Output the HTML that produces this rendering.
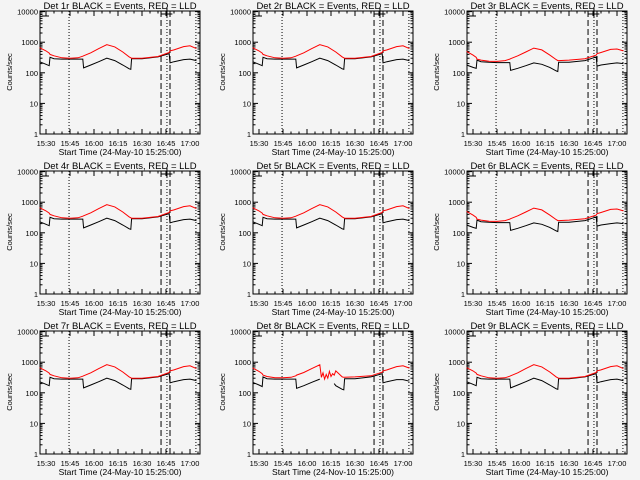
<!DOCTYPE html>
<html><head><meta charset="utf-8"><style>
html,body{margin:0;padding:0;background:#f4f4f4;}
svg{display:block;font-family:"Liberation Sans",sans-serif;}
</style></head><body>
<svg id="chart" width="640" height="480" viewBox="0 0 640 480"></svg>
<script>
const NS="http://www.w3.org/2000/svg";
const times=[926,930,932,932.5,935,940,945,950,953,953.5,958,963,968,973,978,982,983,983.5,990,1000,1007,1007.5,1010,1016,1020,1024];
const blackA=[230,190,170,320,290,280,280,280,280,145,180,230,300,250,180,135,130,290,290,330,420,210,230,270,280,250];
const redA=[660,520,440,400,360,310,300,310,350,360,450,620,830,700,480,330,310,300,300,340,460,520,560,720,760,620];
const blackB=[180,150,140,260,230,220,215,215,215,120,140,170,210,190,150,115,110,220,220,250,330,165,180,200,210,200];
const redB=[500,380,320,280,260,240,235,250,280,290,360,480,640,560,380,270,250,250,260,290,380,420,460,580,600,520];
const times8=[926,930,932,932.5,935,940,945,950,953,953.5,958,963,968,969,970,971,972,973,974,975,976,977,978,982,983,983.5,990,1000,1007,1007.5,1010,1016,1020,1024];
const black8=[220,180,160,330,290,280,280,280,280,140,170,220,280,null,null,null,null,null,null,null,null,200,170,130,125,290,290,330,420,210,230,270,270,240];
const red8=[650,500,420,380,340,310,310,320,360,380,460,620,820,320,450,280,400,300,500,340,420,380,520,330,320,320,330,360,470,520,560,720,760,640];
const panels=[
 {n:"1r",d:"24-May-10",t:times,b:blackA,r:redA},
 {n:"2r",d:"24-May-10",t:times,b:blackA,r:redA},
 {n:"3r",d:"24-May-10",t:times,b:blackB,r:redB},
 {n:"4r",d:"24-May-10",t:times,b:blackA,r:redA},
 {n:"5r",d:"24-May-10",t:times,b:blackA,r:redA},
 {n:"6r",d:"24-May-10",t:times,b:blackB,r:redB},
 {n:"7r",d:"24-May-10",t:times,b:blackA,r:redA},
 {n:"8r",d:"24-Nov-10",t:times8,b:black8,r:red8},
 {n:"9r",d:"24-May-10",t:times,b:blackA,r:redA}];
const xTickMin=[930,945,960,975,990,1005,1020];
const xTickLabels=["15:30","15:45","16:00","16:15","16:30","16:45","17:00"];
const yTicks=[1,10,100,1000,10000];
const yTickLabels=["1","10","100","1000","10000"];
const dotted=[944.4,1005.6,1023.7];
const dashed=[1001.9,1007.5];
const svg=document.getElementById('chart');
function el(tag,a,parent){const e=document.createElementNS(NS,tag);for(const k in a)e.setAttribute(k,a[k]);parent.appendChild(e);return e;}
const L=40,R=200,T=11,B=134,XMIN=926.25,XMAX=1026.25;
const fx=m=>L+(m-XMIN)*(R-L)/(XMAX-XMIN);
const fy=v=>B-Math.log10(v)*30.6;
panels.forEach((p,i)=>{
 const ox=Math.round((i%3)*213.33),oy=Math.floor(i/3)*160;
 const g=el('g',{transform:`translate(${ox},${oy})`},svg);
 
 
 const title=el('text',{x:120,y:9,'font-size':9.5,'text-anchor':'middle',fill:'#000'},g);
 title.textContent=`Det ${p.n} BLACK = Events, RED = LLD`;
 
 
 const frame=el('rect',{x:L,y:T,width:R-L,height:B-T,fill:'none',stroke:'#000','stroke-width':1},g);
 
 
 yTicks.forEach((v,k)=>{
  const y=fy(v);
  el('line',{x1:L,x2:L+5,y1:y,y2:y,stroke:'#000'},g);
  el('line',{x1:R-5,x2:R,y1:y,y2:y,stroke:'#000'},g);
  const tl=el('text',{x:L-2,y:y+3,'font-size':7.5,'text-anchor':'end',fill:'#000'},g);
  tl.textContent=yTickLabels[k];
  
  
  if(v<10000)for(let m=2;m<10;m++){const yy=fy(v*m);el('line',{x1:L,x2:L+2.5,y1:yy,y2:yy,stroke:'#000'},g);el('line',{x1:R-2.5,x2:R,y1:yy,y2:yy,stroke:'#000'},g);}
 });
 for(let m=930;m<=1025;m+=5){const x=fx(m);const len=(m%15==0)?5:2.5;el('line',{x1:x,x2:x,y1:B,y2:B-len,stroke:'#000'},g);el('line',{x1:x,x2:x,y1:T,y2:T+len,stroke:'#000'},g);}
 xTickMin.forEach((m,k)=>{
  const tl=el('text',{x:fx(m),y:146,'font-size':7.5,'text-anchor':'middle',fill:'#000'},g);
  tl.textContent=xTickLabels[k];
  
  
 });
 const xt=el('text',{x:120,y:155,'font-size':8.5,'text-anchor':'middle',fill:'#000'},g);
 xt.textContent=`Start Time (${p.d} 15:25:00)`;
 
 
 const yt=el('text',{x:0,y:0,'font-size':7.5,'text-anchor':'middle',fill:'#000',transform:'translate(12,72) rotate(-90)'},g);
 yt.textContent='Counts/sec';
 
 
 dotted.forEach(m=>{const l=el('line',{x1:fx(m),x2:fx(m),y1:T,y2:B,stroke:'#000','stroke-dasharray':'1,2'},g);});
 dashed.forEach(m=>{const l=el('line',{x1:fx(m),x2:fx(m),y1:T,y2:B,stroke:'#000','stroke-dasharray':'6,3'},g);});
 el('line',{x1:42,x2:49,y1:16,y2:16,stroke:'#000'},g);
 el('line',{x1:fx(1001.9),x2:fx(1009),y1:14,y2:14,stroke:'#000'},g);
 el('line',{x1:fx(1005.6),x2:fx(1005.6),y1:8,y2:17,stroke:'#000'},g);
 function series(vals,color,name){
  let d='',pen=false;
  p.t.forEach((m,k)=>{const v=vals[k];if(v==null){pen=false;return;}d+=(pen?'L':'M')+fx(m).toFixed(1)+' '+fy(v).toFixed(1)+' ';pen=true;});
  const path=el('path',{d:d,fill:'none',stroke:color,'stroke-width':1},g);
  
  
 }
 series(p.b,'#000','events-line');
 series(p.r,'#ff0000','lld-line');
});
</script>
</body></html>
